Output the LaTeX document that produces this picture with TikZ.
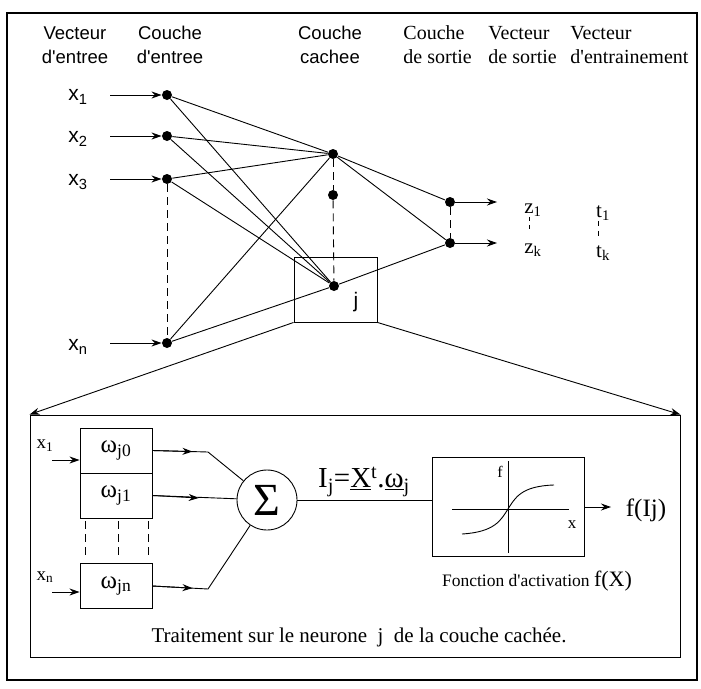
\documentclass[tikz,border=0pt]{standalone}
\usepackage{fontspec}
\setmainfont{Liberation Serif}
\newfontfamily\labelsans{Liberation Sans}
\usetikzlibrary{arrows.meta,calc}
\tikzset{
  neuron/.style={circle, fill, inner sep=0pt, minimum size=10pt},
  arr/.style={-{Stealth[length=10pt,width=7pt]}},
  dashline/.style={dash pattern=on 8pt off 5pt},
  serifhead/.style={align=left, anchor=west, inner sep=0pt, font=\fontsize{20}{24}\selectfont},
  sanshead/.style={align=center, inner sep=0pt, font=\labelsans\fontsize{18.5}{24}\selectfont},
  invec/.style={inner sep=0pt, font=\labelsans\fontsize{21}{24}\selectfont},
  outvec/.style={inner sep=0pt, font=\fontsize{21}{24}\selectfont},
  weight/.style={draw, minimum width=72pt, minimum height=45pt, font=\fontsize{25}{28}\selectfont},
}
\begin{document}
\begin{tikzpicture}[x=1pt, y=-1pt, line width=0.9pt]
\useasboundingbox (0,0) rectangle (701,688);
\node[draw, line width=1.2pt, minimum width=690pt, minimum height=667pt] (frame) at (352,346.5) {};
\node[sanshead] (hin) at (75,45) {Vecteur\\d'entree};
\node[sanshead] (hlin) at (170,45) {Couche\\d'entree};
\node[sanshead] (hhid) at (330,45) {Couche\\cachee};
\node[serifhead] (hlout) at (403,45) {Couche\\de sortie};
\node[serifhead] (hout) at (488,45) {Vecteur\\de sortie};
\node[serifhead] (htrain) at (570,45) {Vecteur\\d\textquotesingle entrainement};
\node[invec] (x1) at (78,97) {x\textsubscript{1}};
\node[invec] (x2) at (78,139) {x\textsubscript{2}};
\node[invec] (x3) at (78,182) {x\textsubscript{3}};
\node[invec] (xn) at (78,347) {x\textsubscript{n}};
\node[neuron] (i1) at (167,95) {};
\node[neuron] (i2) at (167,136) {};
\node[neuron] (i3) at (167,179) {};
\node[neuron] (in) at (167,343) {};
\node[neuron] (h1) at (333,154) {};
\node[neuron] (hm) at (333,195) {};
\node[neuron] (hj) at (334,286) {};
\node[draw, minimum width=83pt, minimum height=65pt] (jbox) at (335.5,289.5) {};
\node[invec] (jlab) at (356,302) {j};
\node[neuron] (o1) at (450,202) {};
\node[neuron] (o2) at (450,243) {};
\node[outvec] (z1) at (533,210) {z\textsubscript{1}};
\node[outvec] (zk) at (533,250) {z\textsubscript{k}};
\node[outvec] (t1) at (603,213) {t\textsubscript{1}};
\node[outvec] (tk) at (603,253) {t\textsubscript{k}};
\coordinate (s1) at (110,95);
\coordinate (s2) at (110,136);
\coordinate (s3) at (110,179);
\coordinate (sn) at (110,343);
\coordinate (e1) at (497,202);
\coordinate (e2) at (497,243);
\draw[arr] (s1) -- (i1);
\draw[arr] (s2) -- (i2);
\draw[arr] (s3) -- (i3);
\draw[arr] (sn) -- (in);
\draw (i1) -- (h1);
\draw (i1) -- (hj);
\draw (i2) -- (h1);
\draw (i2) -- (hj);
\draw (i3) -- (h1);
\draw (i3) -- (hj);
\draw (in) -- (h1);
\draw (in) -- (hj);
\draw (h1) -- (o1);
\draw (h1) -- (o2);
\draw (hj) -- (o2);
\draw[arr] (o1) -- (e1);
\draw[arr] (o2) -- (e2);
\draw[dashline] (i3) -- (in);
\draw[dashline] (h1) -- (hm);
\draw[dashline] (hm) -- (hj);
\draw[dashline] (o1) -- (o2);
\draw[dashline, dash pattern=on 4pt off 4pt, line width=0.6pt] (z1.south west) ++(5,0) -- ++(0,12);
\draw[dashline, dash pattern=on 5pt off 5pt, line width=0.6pt] (t1.south west) ++(3,0) -- ++(0,16);
\node[draw, minimum width=650pt, minimum height=242pt] (detail) at (355,536) {};
\draw[arr] (jbox.south west) -- (detail.north west);
\draw[arr] (jbox.south east) -- (detail.north east);
\node[weight] (w0) at (116,450.5) {ω\textsubscript{j0}};
\node[weight] (w1) at (116,495.5) {ω\textsubscript{j1}};
\node[weight] (wn) at (116,586) {ω\textsubscript{jn}};
\draw[dashline, line width=0.6pt] (85,521) -- (85,555);
\draw[dashline, line width=0.6pt] (118,521) -- (118,555);
\draw[dashline, line width=0.6pt] (148,521) -- (148,555);
\node[inner sep=0pt, font=\fontsize{19}{20}\selectfont] (bx1) at (45,446) {x\textsubscript{1}};
\node[inner sep=0pt, font=\fontsize{19}{20}\selectfont] (bxn) at (45,577) {x\textsubscript{n}};
\coordinate (b1) at (52,460);
\coordinate (bn) at (52,592);
\draw[arr] (b1) -- (b1 -| w0.west);
\draw[arr] (bn) -- (bn -| wn.west);
\node[draw, circle, minimum size=60pt, inner sep=0pt, font=\fontsize{46}{48}\selectfont] (sum) at (267,500) {Σ};
\coordinate (k0) at (208,452);
\coordinate (kn) at (208,589);
\draw[arr] (w0.east) -- ($(w0.east)!0.72!(k0)$);
\draw (w0.east) -- (k0) -- (sum);
\draw[arr] (w1.east) -- ($(w1.east)!0.55!(sum.west)$);
\draw (w1.east) -- (sum);
\draw[arr] (wn.east) -- ($(wn.east)!0.72!(kn)$);
\draw (wn.east) -- (kn) -- (sum);
\node[draw, minimum width=152pt, minimum height=99pt] (act) at (508,507) {};
\draw (sum) -- (sum -| act.west);
\node[anchor=south, inner sep=0pt, font=\fontsize{29}{30}\selectfont] (form) at (364,497) {I\textsubscript{j}=\underline{X}\textsuperscript{t}.\underline{ω}\textsubscript{j}};
\draw (452,509) -- (569,509);
\draw[line width=0.6pt] (508,461) -- (508,553);
\draw (462,534) .. controls (495,532) and (501,520) .. (508,509) .. controls (515,498) and (521,486) .. (554,485);
\node[inner sep=0pt, font=\fontsize{16}{18}\selectfont] (flab) at (500,472) {f};
\node[inner sep=0pt, font=\fontsize{17}{18}\selectfont] (xlab) at (572,525) {x};
\coordinate (fo) at (611,507);
\draw[arr] (act.east) -- (fo);
\node[inner sep=0pt, font=\fontsize{25}{26}\selectfont] (fout) at (646,510) {f(Ij)};
\node[inner sep=0pt, font=\fontsize{17.5}{20}\selectfont] (actcap) at (537,581) {Fonction d\textquotesingle activation {\fontsize{22}{22}\selectfont f(X)}};
\node[inner sep=0pt, font=\fontsize{21}{22}\selectfont] (cap) at (359,637) {Traitement sur le neurone \ j \ de la couche cachée.};
\end{tikzpicture}
\end{document}
